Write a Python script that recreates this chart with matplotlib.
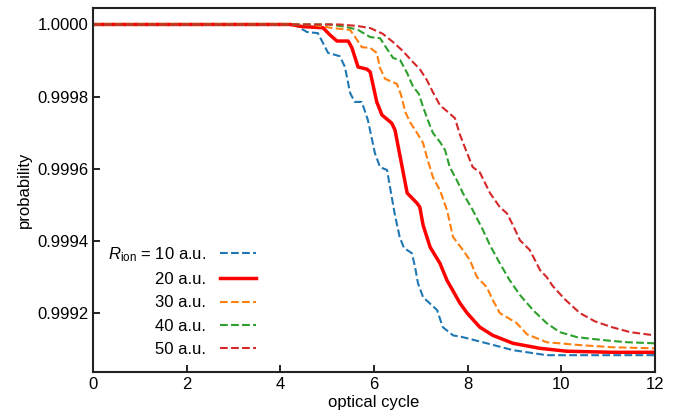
import matplotlib
matplotlib.use("Agg")
import matplotlib.pyplot as plt

plt.rcParams['font.family'] = ['Liberation Sans', 'DejaVu Sans']
plt.rcParams['mathtext.fontset'] = 'custom'
plt.rcParams['mathtext.rm'] = 'Liberation Sans'
plt.rcParams['mathtext.it'] = 'Liberation Sans:italic'

labels = ["$R_\\mathrm{ion}$ = 10 a.u.", "20 a.u.", "30 a.u.", "40 a.u.", "50 a.u."]

x10 = [0, 3.99, 4.31, 4.57, 4.80, 4.91, 5.02, 5.27, 5.38, 5.49, 5.59, 5.74, 5.87, 6.02, 6.13, 6.28,
       6.38, 6.45, 6.55, 6.64, 6.81, 6.88, 6.94, 7.05, 7.35, 7.47, 7.69, 7.90, 8.41, 8.97, 9.69, 10.40, 12.0]
p10 = [1.0, 1.0, 0.999999, 0.999979, 0.999976, 0.999949, 0.999921, 0.999912, 0.999882, 0.99981,
       0.999785, 0.999785, 0.999735, 0.999643, 0.999604, 0.999596, 0.999521, 0.99947, 0.99941,
       0.99938, 0.999365, 0.999326, 0.999282, 0.999243, 0.999207, 0.99916, 0.999137, 0.999132,
       0.999115, 0.999096, 0.999082, 0.999082, 0.999082]

x20 = [0, 4.21, 4.48, 4.91, 5.06, 5.21, 5.45, 5.53, 5.66, 5.85, 5.92, 6.06, 6.17, 6.38, 6.45, 6.71,
       6.92, 6.98, 7.05, 7.20, 7.41, 7.56, 7.84, 7.99, 8.26, 8.54, 8.97, 9.55, 10.12, 11.10, 12.0]
p20 = [1.0, 1.0, 0.999994, 0.999991, 0.999971, 0.999954, 0.999954, 0.999935, 0.999882, 0.999876,
       0.999868, 0.999785, 0.999749, 0.999726, 0.999707, 0.999532, 0.999504, 0.999493, 0.999443,
       0.999382, 0.999337, 0.99929, 0.999226, 0.999199, 0.99916, 0.999137, 0.999115, 0.999101,
       0.999093, 0.99909, 0.99909]

x30 = [0, 4.63, 5.12, 5.49, 5.64, 5.74, 5.92, 6.06, 6.13, 6.24, 6.49, 6.58, 6.67, 6.77, 6.92, 7.05,
       7.13, 7.26, 7.41, 7.56, 7.69, 7.90, 8.05, 8.20, 8.41, 8.54, 8.69, 9.05, 9.27, 9.69, 10.40, 11.10, 12.0]
p30 = [1.0, 1.0, 0.99999, 0.999985, 0.999957, 0.999937, 0.999935, 0.999921, 0.999879, 0.999849,
       0.999835, 0.999804, 0.999757, 0.999729, 0.999699, 0.999671, 0.999632, 0.999576, 0.99954,
       0.999485, 0.99941, 0.999374, 0.999346, 0.999299, 0.999271, 0.999235, 0.999199, 0.999171,
       0.99914, 0.999118, 0.99911, 0.999104, 0.999101]

x40 = [0, 5.06, 5.42, 5.66, 5.92, 6.13, 6.28, 6.41, 6.56, 6.71, 6.83, 6.96, 7.05, 7.15, 7.26, 7.41,
       7.52, 7.62, 7.77, 7.90, 8.11, 8.33, 8.48, 8.69, 8.90, 9.12, 9.40, 9.69, 9.97, 10.34, 10.89, 11.40, 12.0]
p40 = [1.0, 1.0, 0.999993, 0.999985, 0.999965, 0.999962, 0.999932, 0.999907, 0.999901, 0.999865,
       0.999829, 0.999807, 0.999771, 0.999735, 0.999699, 0.999674, 0.999651, 0.999604, 0.999568,
       0.999532, 0.999485, 0.999429, 0.999387, 0.999337, 0.99929, 0.999249, 0.999207, 0.999171,
       0.999146, 0.999132, 0.999124, 0.999118, 0.999115]

x50 = [0, 5.27, 5.64, 5.92, 6.19, 6.41, 6.62, 6.83, 6.98, 7.13, 7.26, 7.41, 7.58, 7.73, 7.84, 7.99,
       8.11, 8.26, 8.48, 8.69, 8.84, 8.97, 9.12, 9.33, 9.55, 9.69, 9.82, 10.08, 10.40, 10.72, 11.08, 11.47, 12.0]
p50 = [1.0, 1.0, 0.999996, 0.99999, 0.999974, 0.999951, 0.999926, 0.999896, 0.999876, 0.999846,
       0.999812, 0.999776, 0.999757, 0.99974, 0.999693, 0.999643, 0.999604, 0.99959, 0.999532,
       0.999493, 0.999476, 0.999443, 0.999401, 0.999374, 0.999318, 0.999299, 0.999274, 0.999237,
       0.999199, 0.999176, 0.99916, 0.999146, 0.999137]

xticks = [0, 2, 4, 6, 8, 10, 12]
yticks = [0.9992, 0.9994, 0.9996, 0.9998, 1.0000]

fig = plt.figure(figsize=(6.75, 4.2), dpi=100)
ax = fig.add_axes([0.138, 0.114, 0.832, 0.867])

ax.plot(x10, p10, color='tab:blue', ls='--', lw=1.5, label=labels[0])
ax.plot(x20, p20, color='#ff0000', ls='-', lw=2.5, label=labels[1])
ax.plot(x30, p30, color='tab:orange', ls='--', lw=1.5, label=labels[2])
ax.plot(x40, p40, color='tab:green', ls='--', lw=1.5, label=labels[3])
ax.plot(x50, p50, color='tab:red', ls='--', lw=1.5, label=labels[4])

ax.set_xlim(0, 12)
ax.set_ylim(0.999035, 1.0000458)
ax.set_xticks(xticks)
ax.set_xticklabels([str(t) for t in xticks])
ax.set_yticks(yticks)
ax.set_yticklabels([f"{t:.4f}" for t in yticks])
ax.tick_params(direction='in', labelsize=12, length=5, width=1.2)
for s in ax.spines.values():
    s.set_linewidth(1.5)
    s.set_color('#222222')

ax.set_xlabel("optical cycle", fontsize=12, labelpad=2)
ax.set_ylabel("probability", fontsize=12)

ax.legend(loc='lower left', frameon=False, markerfirst=False, fontsize=12,
          handlelength=2.2)

fig.savefig("out.png", dpi=100)
